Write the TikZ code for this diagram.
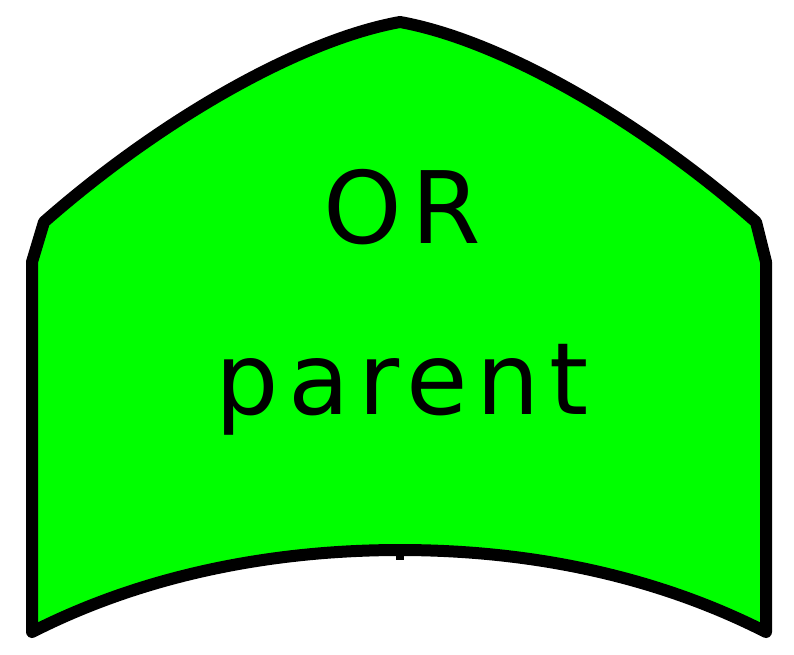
\documentclass[tikz,border=0pt]{standalone}
\usepackage{fontspec}
\setmainfont{DejaVu Sans}[LetterSpace=9]
\definecolor{gatefill}{RGB}{0,255,0}
\tikzset{
  gate/.style={draw=black, line width=12pt, fill=gatefill, line join=round},
  gatetext/.style={font=\fontsize{100}{110}\selectfont, inner sep=0pt, text=black},
}
\begin{document}
\begin{tikzpicture}[x=1pt,y=-1pt]
\useasboundingbox (0,0) rectangle (794,654);
\path[gate]
  (32,632) -- (32,262) -- (44,222)
  .. controls (160,120) and (300,40) .. (400,22)
  .. controls (500,40) and (640,120) .. (756,222)
  -- (766,262) -- (766,632)
  .. controls (648,572) and (520,550) .. (400,550)
  .. controls (280,550) and (150,572) .. (32,632) -- cycle;
\coordinate (tickA) at (400,546);
\coordinate (tickB) at (400,560);
\draw[line width=8pt] (tickA) -- (tickB);
\node[gatetext] (or) at (402,207) {OR};
\node[gatetext, anchor=base] (parent) at (402,414) {parent};
\end{tikzpicture}
\end{document}
